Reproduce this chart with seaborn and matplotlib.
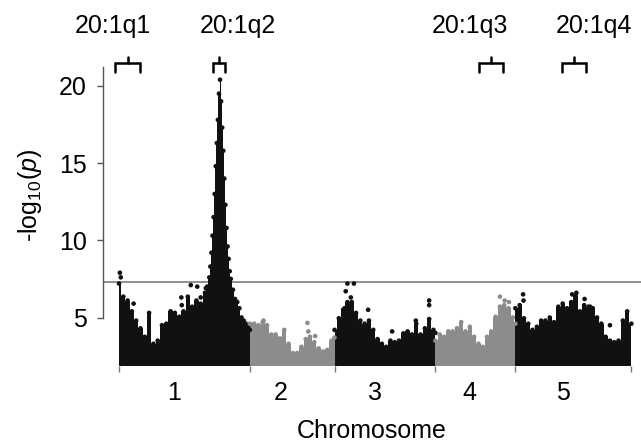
import numpy as np
import pandas as pd
import matplotlib
matplotlib.use("Agg")
import matplotlib.pyplot as plt
import seaborn as sns

# chromosome lengths (Mb) and tick label positions
chrom_names = ["1", "2", "3", "4", "5"]
chrom_len = [30.43, 19.70, 23.46, 18.59, 26.98]
chrom_label_pos = [12.8, 37.7, 59.5, 81.4, 103.3]

# upper envelope of the -log10(p) cloud, read per chromosome (local Mb)
chr1_pos = [0, 1, 2, 3, 4, 5, 6, 7, 8, 9, 10, 11, 12, 13, 14, 15, 16, 17, 18, 19, 20, 20.5,
            21.0, 21.25, 21.5, 21.75, 22.0, 22.25, 22.5, 22.75, 23.0, 23.25, 23.5, 23.75,
            24.0, 24.25, 24.5, 24.75, 25.0, 25.25, 25.5, 25.75, 26.0, 26.5, 27.0, 27.5,
            28.0, 28.5, 29.0, 29.5, 30.0, 30.43]
chr1_val = [7.2, 6.35, 6.1, 5.4, 4.8, 4.3, 3.75, 5.3, 3.3, 3.5, 4.5, 4.6, 5.4, 5.3, 5.05, 5.4,
            6.35, 5.7, 6.1, 5.9, 6.6, 7.0, 7.6, 8.3, 9.2, 10.3, 11.5, 13.0, 14.8, 16.3, 17.8,
            19.5, 20.4, 19.0, 17.3, 15.8, 14.0, 12.3, 10.8, 9.6, 8.8, 8.0, 7.5, 6.8, 6.2,
            6.0, 5.6, 5.0, 4.8, 4.6, 4.4, 4.2]
chr2_pos = [0, 1, 2, 3, 4, 5, 6, 7, 8, 9, 10, 11, 12, 13, 14, 15, 16, 17, 18, 19, 19.7]
chr2_val = [4.6, 4.6, 4.5, 4.7, 4.5, 3.9, 3.9, 3.65, 4.2, 3.3, 2.7, 2.7, 3.1, 3.6, 3.75, 3.4,
            3.0, 2.8, 2.9, 3.5, 3.7]
chr3_pos = [0, 1, 2, 3, 4, 5, 6, 7, 8, 9, 10, 11, 12, 13, 14, 15, 16, 17, 18, 19, 20, 21, 22,
            23, 23.46]
chr3_val = [4.2, 4.95, 5.5, 6.0, 6.0, 5.3, 4.8, 4.6, 4.8, 4.2, 3.6, 3.3, 3.1, 3.5, 3.4, 3.5,
            3.97, 4.1, 3.9, 4.6, 3.9, 4.3, 4.9, 4.2, 4.0]
chr4_pos = [0, 1, 2, 3, 4, 5, 6, 7, 8, 9, 10, 11, 12, 13, 14, 15, 16, 17, 18, 18.59]
chr4_val = [3.5, 3.9, 3.75, 4.1, 4.1, 4.3, 4.7, 4.1, 4.4, 3.75, 3.3, 3.1, 3.75, 4.1, 5.05, 5.7,
            5.8, 5.6, 5.0, 4.6]
chr5_pos = [0, 1, 2, 3, 4, 5, 6, 7, 8, 9, 10, 11, 12, 13, 14, 15, 16, 17, 18, 19, 20, 21, 22,
            23, 24, 25, 26, 26.98]
chr5_val = [5.6, 5.8, 4.95, 4.6, 4.2, 4.4, 4.8, 4.8, 5.0, 4.7, 5.7, 5.9, 5.6, 6.0, 6.4, 5.4,
            5.8, 5.7, 5.6, 5.0, 4.6, 3.75, 3.5, 3.4, 3.5, 4.8, 5.4, 4.6]

# isolated SNPs standing above the cloud
chr1_out_pos = [0.2, 0.4, 3.4, 14.5, 14.6, 16.7, 18.2, 19.0, 20.2]
chr1_out_val = [7.9, 7.6, 5.9, 6.3, 5.8, 7.1, 7.0, 6.3, 6.9]
chr2_out_pos = [3.2, 13.4, 13.6, 15.2]
chr2_out_val = [4.8, 4.65, 4.1, 3.8]
chr3_out_pos = [2.3, 2.6, 3.0, 3.8, 4.5, 7.8, 13.4, 18.9, 22.0, 22.0]
chr3_out_val = [5.6, 6.7, 7.2, 6.3, 7.2, 5.5, 4.1, 4.8, 6.1, 5.8]
chr4_out_pos = [15.0, 16.1, 17.1]
chr4_out_val = [6.35, 6.1, 6.0]
chr5_out_pos = [1.8, 1.9, 13.2, 14.2, 16.1, 17.4, 22.0, 23.9]
chr5_out_val = [6.5, 6.1, 6.5, 6.6, 6.2, 5.7, 4.5, 2.8]

threshold = 7.3
floor_val = 1.86

# QTL annotations (cumulative Mb)
qtl_names = ["20:1q1", "20:1q2", "20:1q3", "20:1q4"]
qtl_left = [-0.9, 21.9, 83.7, 103.0]
qtl_right = [4.9, 24.7, 89.3, 108.6]
qtl_text_x = [-1.4, 27.7, 81.6, 110.5]

env_pos = [chr1_pos, chr2_pos, chr3_pos, chr4_pos, chr5_pos]
env_val = [chr1_val, chr2_val, chr3_val, chr4_val, chr5_val]
out_pos = [chr1_out_pos, chr2_out_pos, chr3_out_pos, chr4_out_pos, chr5_out_pos]
out_val = [chr1_out_val, chr2_out_val, chr3_out_val, chr4_out_val, chr5_out_val]

sns.set_style("white")
plt.rcParams["font.family"] = ["Liberation Sans", "DejaVu Sans"]
plt.rcParams["mathtext.fontset"] = "custom"
plt.rcParams["mathtext.rm"] = "Liberation Sans"
plt.rcParams["mathtext.it"] = "Liberation Sans:italic"
plt.rcParams["text.color"] = "black"
plt.rcParams["axes.labelcolor"] = "black"
plt.rcParams["xtick.labelcolor"] = "black"
plt.rcParams["ytick.labelcolor"] = "black"

starts = np.concatenate([[0], np.cumsum(chrom_len)])
colors = {"1": "#111111", "2": "#8c8c8c", "3": "#111111", "4": "#8c8c8c", "5": "#111111"}

rows = []
for i, name in enumerate(chrom_names):
    for p, v in zip(env_pos[i] + out_pos[i], env_val[i] + out_val[i]):
        rows.append({"pos": starts[i] + p, "logp": v, "chrom": name})
dots = pd.DataFrame(rows)

fig = plt.figure(figsize=(6.41, 4.45), dpi=100)
ax = fig.add_axes([103 / 641, 79 / 445, 538 / 641, 311 / 445])

ax.axhline(threshold, color="#707070", lw=1.1, zorder=1)

for i, name in enumerate(chrom_names):
    x = starts[i] + np.array(env_pos[i])
    ax.fill_between(x, floor_val, env_val[i], step="mid", color=colors[name], lw=0, zorder=2)

sns.scatterplot(data=dots, x="pos", y="logp", hue="chrom", palette=colors, s=11,
                linewidth=0, legend=False, ax=ax, zorder=3)

ax.set_xlim(-3.72, 121.4)
ax.set_ylim(floor_val, 22.0)

# QTL brackets and names
for name, l, r, t in zip(qtl_names, qtl_left, qtl_right, qtl_text_x):
    m = (l + r) / 2
    ax.plot([l, l, r, r], [20.93, 21.5, 21.5, 20.93], color="black", lw=1.8,
            clip_on=False, solid_joinstyle="miter")
    ax.plot([m, m], [21.5, 21.85], color="black", lw=1.8, clip_on=False)
    ax.text(t, 23.9, name, ha="center", va="center", fontsize=18)

for s in ["top", "right", "bottom"]:
    ax.spines[s].set_visible(False)
ax.spines["left"].set_bounds(5, 21.2)
ax.spines["left"].set_color("#555555")
ax.spines["left"].set_linewidth(1)

ax.set_yticks([5, 10, 15, 20])
ax.tick_params(axis="y", direction="out", length=4.5, width=1, color="#555555",
               labelsize=18, pad=7, left=True)

ax.set_xticks(starts)
ax.set_xticklabels([])
ax.set_xticks(chrom_label_pos, minor=True)
ax.set_xticklabels(chrom_names, minor=True)
ax.tick_params(axis="x", which="major", direction="out", length=4.5, width=1,
               color="#777777", bottom=True)
ax.tick_params(axis="x", which="minor", length=0, labelsize=18, pad=11)

ax.set_xlabel("Chromosome", fontsize=18, labelpad=10)
ax.set_ylabel(r"-log$_{10}$($p$)", fontsize=18)
ax.yaxis.set_label_coords(-0.11, 0.55)
ax.grid(False)

fig.savefig("out.png", dpi=100)
